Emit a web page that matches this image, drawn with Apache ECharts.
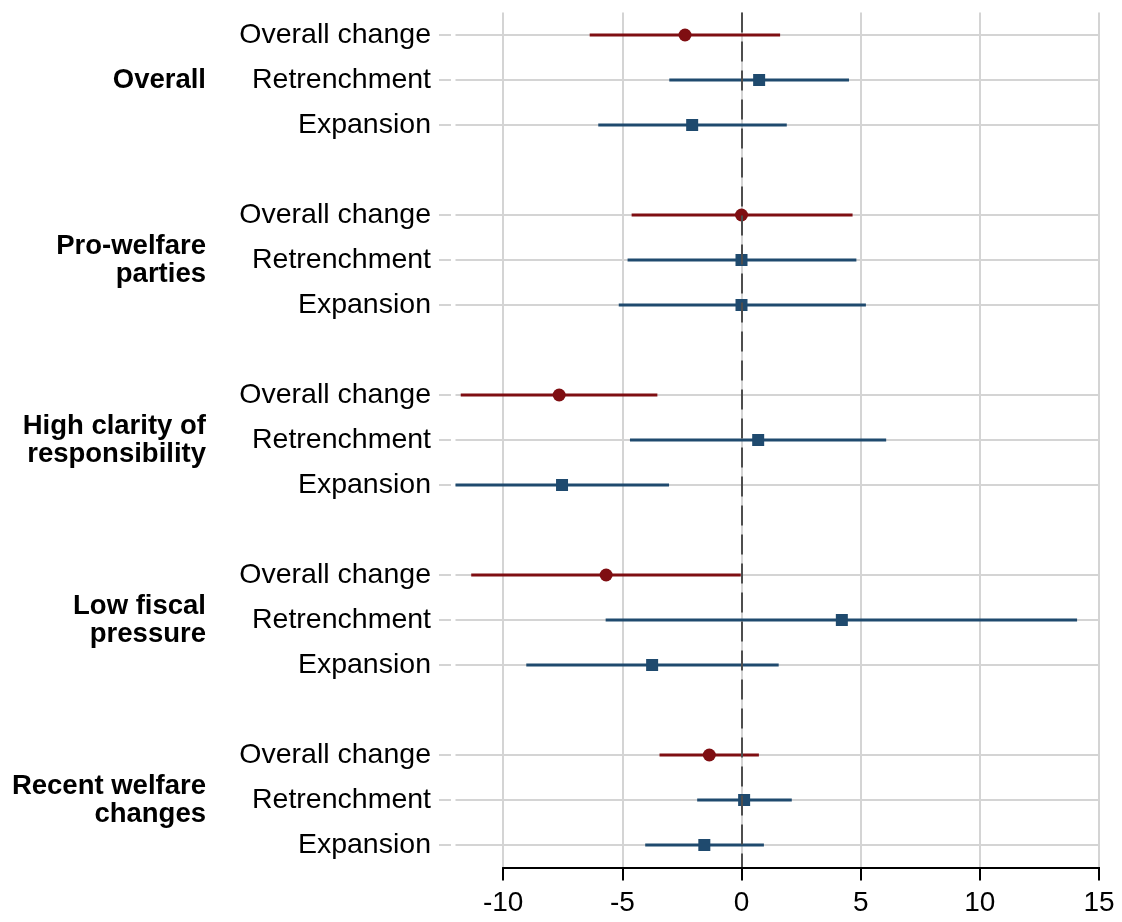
<!DOCTYPE html>
<html>
<head>
<meta charset="utf-8">
<script src="https://cdn.jsdelivr.net/npm/echarts@6/dist/echarts.min.js"></script>
<style>html,body{margin:0;padding:0;background:#fff}#c{width:1122px;height:922px}</style>
</head>
<body>
<div id="c"></div>
<script>
// ---- data ----
const groups = ['Overall', 'Pro-welfare\nparties', 'High clarity of\nresponsibility', 'Low fiscal\npressure', 'Recent welfare\nchanges'];
const terms = ['Overall change', 'Retrenchment', 'Expansion'];
// estimates per group, in term order
const estimate = [-2.37, 0.74, -2.07,  0.00, 0.00, 0.00,  -7.65, 0.70, -7.53,  -5.68, 4.21, -3.75,  -1.35, 0.11, -1.56];
const lower    = [-6.37, -3.03, -6.01, -4.61, -4.78, -5.15, -11.78, -4.68, -12.00, -11.34, -5.70, -9.03, -3.44, -1.86, -4.04];
const upper    = [1.62, 4.51, 1.90,  4.66, 4.82, 5.22,  -3.53, 6.07, -3.04,  -0.03, 14.08, 1.56,  0.73, 2.11, 0.94];
const xTicks = [-10, -5, 0, 5, 10, 15];

// ---- build categories ----
const cats = [];
const rows = [];
groups.forEach((g, gi) => {
  terms.forEach((t, ti) => {
    const id = gi + '|' + t;
    cats.push(id);
    const k = gi * 3 + ti;
    rows.push({cat: id, term: t, est: estimate[k], lo: lower[k], hi: upper[k]});
  });
  if (gi < groups.length - 1) cats.push('sp' + gi);
});

const RED = '#7f0e12', BLUE = '#1f4a6e', GRID = '#d4d4d4';
const FONT = '"Liberation Sans", Arial, Helvetica, sans-serif';

const chart = echarts.init(document.getElementById('c'), null, {renderer: 'canvas'});
chart.setOption({
  animation: false,
  backgroundColor: '#fff',
  grid: {left: 455.5, right: 23, top: 12.5, bottom: 54.5, containLabel: false, outerBoundsMode: 'none'},
  xAxis: {
    type: 'value', min: -12, max: 15,
    axisLine: {show: true, onZero: false, lineStyle: {color: 'rgba(0,0,0,0)', width: 2}},
    axisTick: {show: true, length: 13, customValues: xTicks, lineStyle: {color: '#000', width: 2}},
    axisLabel: {customValues: xTicks, color: '#000', fontSize: 28, fontFamily: FONT, margin: 22},
    splitLine: {show: true, lineStyle: {color: GRID, width: 2}}
  },
  yAxis: [{
    type: 'category', data: cats, inverse: true,
    axisLine: {show: false},
    axisTick: {show: false},
    axisLabel: {interval: 0, color: '#000', fontSize: 28.5, fontFamily: FONT, margin: 24.5,
      formatter: v => v.startsWith('sp') ? '' : v.split('|')[1]},
    splitLine: {show: false}
  }, {
    type: 'category', data: cats, inverse: true, position: 'left', offset: 0,
    axisLine: {show: false}, axisTick: {show: false}, splitLine: {show: false},
    axisLabel: {interval: 0, color: '#000', fontSize: 27.5, fontWeight: 'bold', fontFamily: FONT,
      margin: 249.5, lineHeight: 28, align: 'right',
      formatter: v => {
        if (v.startsWith('sp')) return '';
        const p = v.split('|');
        return p[1] === 'Retrenchment' ? groups[+p[0]] : '';
      }}
  }],
  series: [{
    // row gridlines plus the light y ticks
    type: 'custom', name: 'rowgrid', z: 1, silent: true,
    data: rows.map(r => [0, r.cat]),
    encode: {x: 0, y: 1},
    renderItem: (params, api) => {
      const y = api.coord([0, api.value(1)])[1];
      const cs = params.coordSys;
      return {type: 'group', children: [
        {type: 'line', shape: {x1: cs.x - 16.5, y1: y, x2: cs.x - 4.5, y2: y}, style: {stroke: GRID, lineWidth: 2}},
        {type: 'line', shape: {x1: cs.x, y1: y, x2: cs.x + cs.width, y2: y}, style: {stroke: GRID, lineWidth: 2}}
      ]};
    }
  }, {
    type: 'custom', name: 'ci', z: 2, silent: true,
    data: rows.map(r => [r.lo, r.hi, r.cat, r.term === 'Overall change' ? 1 : 0]),
    encode: {x: [0, 1], y: 2},
    renderItem: (params, api) => {
      const a = api.coord([api.value(0), api.value(2)]);
      const b = api.coord([api.value(1), api.value(2)]);
      return {type: 'line', shape: {x1: a[0], y1: a[1], x2: b[0], y2: b[1]},
        style: {stroke: api.value(3) === 1 ? RED : BLUE, lineWidth: 3}};
    }
  }, {
    // bottom axis line, spanning first to last tick
    type: 'custom', name: 'axisline', z: 5, silent: true,
    data: [[xTicks[0], xTicks[xTicks.length - 1]]],
    encode: {x: [0, 1]},
    renderItem: (params, api) => {
      const cs = params.coordSys;
      const x1 = api.coord([api.value(0), cats[0]])[0];
      const x2 = api.coord([api.value(1), cats[0]])[0];
      const y = cs.y + cs.height + 0.5;
      return {type: 'line', shape: {x1: x1 - 1, y1: y, x2: x2 + 1, y2: y}, style: {stroke: '#000', lineWidth: 2}};
    }
  }, {
    type: 'scatter', name: 'zero', z: 3, data: [],
    markLine: {silent: true, symbol: 'none', label: {show: false},
      lineStyle: {color: '#4d4d4d', width: 2, type: [20, 9]},
      data: [{xAxis: 0}]}
  }, {
    type: 'scatter', name: 'Overall change', z: 4, symbol: 'circle', symbolSize: 13,
    itemStyle: {color: RED, opacity: 1},
    data: rows.filter(r => r.term === 'Overall change').map(r => [r.est, r.cat])
  }, {
    type: 'scatter', name: 'Components', z: 4, symbol: 'rect', symbolSize: 12,
    itemStyle: {color: BLUE, opacity: 1},
    data: rows.filter(r => r.term !== 'Overall change').map(r => [r.est, r.cat])
  }]
});
</script>
</body>
</html>
